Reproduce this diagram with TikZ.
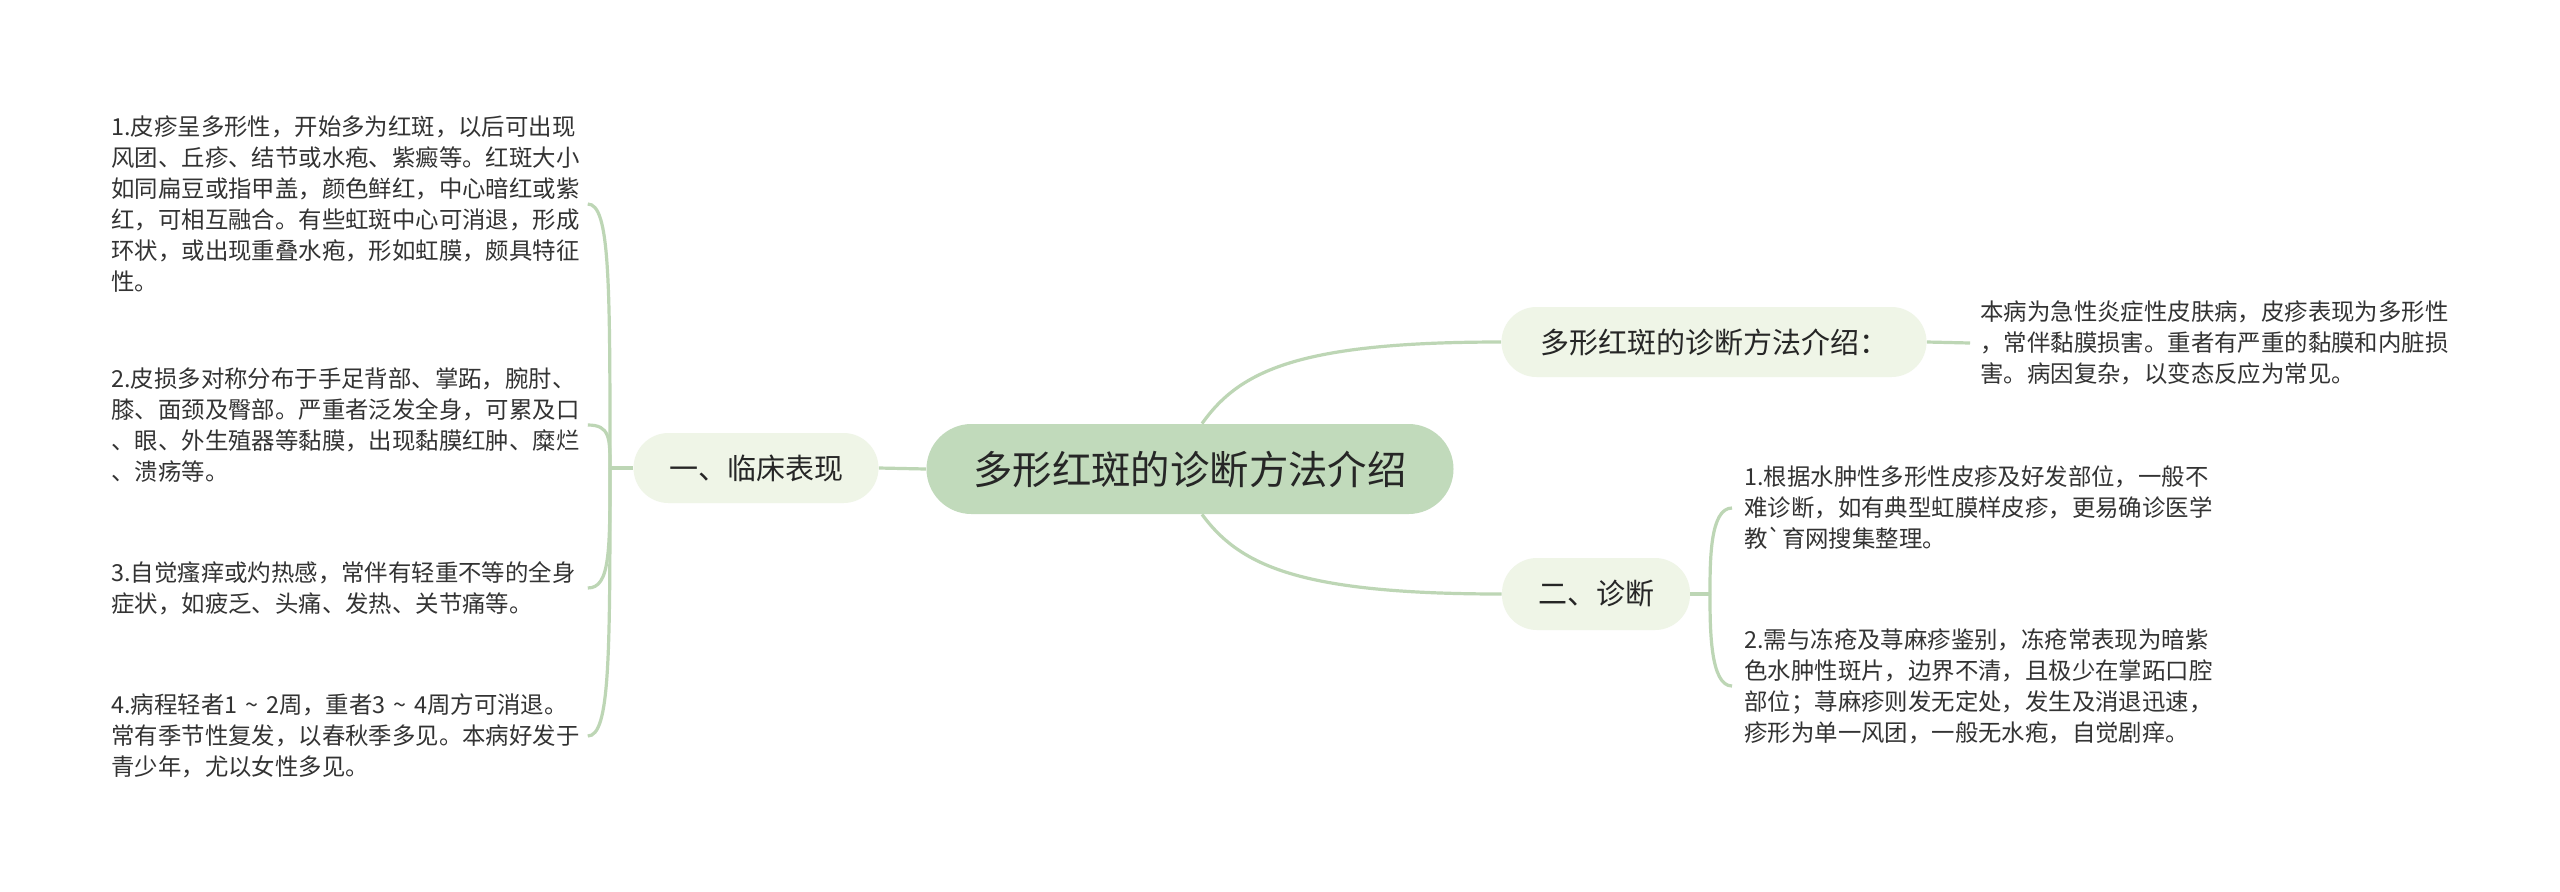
\documentclass[tikz,border=0pt]{standalone}
\usepackage{fontspec}
\newfontfamily\cjk{Noto Sans CJK SC}
\definecolor{linkc}{RGB}{189,214,181}
\definecolor{rootfill}{RGB}{193,218,187}
\definecolor{subfill}{RGB}{239,245,231}
\definecolor{txtdark}{RGB}{38,38,38}
\definecolor{txtleaf}{RGB}{51,51,51}
\tikzset{
  rootbox/.style={rectangle, rounded corners=22.5pt, fill=rootfill, minimum width=263.5pt, minimum height=45pt, inner sep=0pt, text=txtdark, font=\cjk\fontsize{19.7}{22}\selectfont},
  subbox/.style={rectangle, rounded corners=17.5pt, fill=subfill, minimum height=35pt, inner sep=0pt, text=txtdark, font=\cjk\fontsize{14.5}{17}\selectfont},
  leaftext/.style={anchor=west, align=left, text width=238pt, inner sep=0pt, text=txtleaf, font=\cjk\fontsize{11.7}{15.5}\selectfont},
  link/.style={draw=linkc, line width=1.6pt}
}
\begin{document}
\begin{tikzpicture}[x=0.5pt,y=-0.5pt]
\useasboundingbox (0,0) rectangle (2560,891);
\fill[white] (0,0) rectangle (2560,891);

% nodes
\node[rootbox] (root) at (1190,469) {多形红斑的诊断方法介绍};
\node[subbox, minimum width=122.5pt] (clin) at (756,468) {一、临床表现};
\node[subbox, minimum width=212.5pt] (intro) at (1714,342) {多形红斑的诊断方法介绍：};
\node[subbox, minimum width=94pt, minimum height=36pt] (diag) at (1596,594) {二、诊断};

\node[leaftext] (c1) at (111,204) {1.皮疹呈多形性，开始多为红斑，以后可出现\\风团、丘疹、结节或水疱、紫癜等。红斑大小\\如同扁豆或指甲盖，颜色鲜红，中心暗红或紫\\红，可相互融合。有些虹斑中心可消退，形成\\环状，或出现重叠水疱，形如虹膜，颇具特征\\性。};
\node[leaftext] (c2) at (111,425) {2.皮损多对称分布于手足背部、掌跖，腕肘、\\膝、面颈及臀部。严重者泛发全身，可累及口\\、眼、外生殖器等黏膜，出现黏膜红肿、糜烂\\、溃疡等。};
\node[leaftext] (c3) at (111,588) {3.自觉瘙痒或灼热感，常伴有轻重不等的全身\\症状，如疲乏、头痛、发热、关节痛等。};
\node[leaftext] (c4) at (111,736) {4.病程轻者1 \textasciitilde{} 2周，重者3 \textasciitilde{} 4周方可消退。\\常有季节性复发，以春秋季多见。本病好发于\\青少年，尤以女性多见。};

\node[leaftext] (introtxt) at (1980,343) {本病为急性炎症性皮肤病，皮疹表现为多形性\\，常伴黏膜损害。重者有严重的黏膜和内脏损\\害。病因复杂，以变态反应为常见。};
\node[leaftext] (d1) at (1744,508) {1.根据水肿性多形性皮疹及好发部位，一般不\\难诊断，如有典型虹膜样皮疹，更易确诊医学\\教\symbol{96}育网搜集整理。};
\node[leaftext] (d2) at (1744,686) {2.需与冻疮及荨麻疹鉴别，冻疮常表现为暗紫\\色水肿性斑片，边界不清，且极少在掌跖口腔\\部位；荨麻疹则发无定处，发生及消退迅速，\\疹形为单一风团，一般无水疱，自觉剧痒。};

% connectors left
\coordinate (cj) at (610,468);
\draw[link] (root.west) -- (clin.east);
\draw[link] (clin.west) -- (cj);
\draw[link] (cj) .. controls (610,283) and (610,204) .. (c1.east);
\draw[link] (cj) .. controls (610,438) and (610,425) .. (c2.east);
\draw[link] (cj) .. controls (610,552) and (610,588) .. (c3.east);
\draw[link] (cj) .. controls (610,656) and (610,736) .. (c4.east);

% connectors right
\draw[link] ([xshift=6pt]root.north) .. controls (1240,370) and (1300,342) .. (intro.west);
\draw[link] ([xshift=6pt]root.south) .. controls (1240,566) and (1300,594) .. (diag.west);
\draw[link] (intro.east) -- ([xshift=-5pt]introtxt.west);
\coordinate (dj) at (1710,594);
\draw[link] (diag.east) -- (dj);
\draw[link] (dj) .. controls (1710,560) and (1710,508) .. ([xshift=-6pt]d1.west);
\draw[link] (dj) .. controls (1710,628) and (1710,686) .. ([xshift=-6pt]d2.west);
\end{tikzpicture}
\end{document}
